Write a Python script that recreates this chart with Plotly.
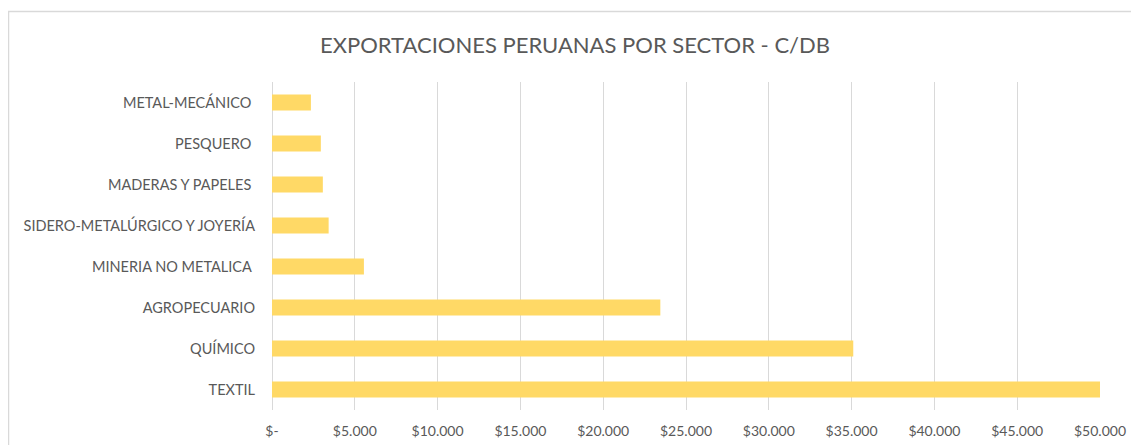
import plotly.graph_objects as go

categories = ["TEXTIL", "QUÍMICO", "AGROPECUARIO", "MINERIA NO METALICA ",
              "SIDERO-METALÚRGICO Y JOYERÍA", "MADERAS Y PAPELES ", "PESQUERO ", "METAL-MECÁNICO "]
values = [50000, 35100, 23450, 5550, 3420, 3070, 2950, 2350]
tick_vals = [0, 5000, 10000, 15000, 20000, 25000, 30000, 35000, 40000, 45000, 50000]
tick_text = ["$-", "$5.000", "$10.000", "$15.000", "$20.000", "$25.000",
             "$30.000", "$35.000", "$40.000", "$45.000", "$50.000"]

# page has an 8px body margin, so the figure is drawn from (8, 8)
OFF = 8
W, H = 1139 - OFF, 445 - OFF
L, T = 272 - OFF, 82 - OFF
R = W - (1100 - OFF)
B = H - (410 - OFF)
pw, ph = W - L - R, H - T - B

fig = go.Figure(go.Bar(
    y=categories, x=values, orientation="h",
    marker=dict(color="#FFD966", line=dict(width=0)),
    hoverinfo="x+y"
))

font_family = "Lato, Open Sans, sans-serif"
fig.update_layout(
    width=W, height=H,
    margin=dict(l=L, r=R, t=T, b=B, pad=0, autoexpand=False),
    paper_bgcolor="white", plot_bgcolor="white",
    bargap=0.61,
    showlegend=False,
    title=dict(text="EXPORTACIONES PERUANAS POR SECTOR - C/DB",
               x=(575 - OFF) / W, xanchor="center", xref="container",
               y=1 - (45 - OFF) / H, yanchor="middle", yref="container",
               font=dict(family=font_family, size=22, color="#595959")),
    font=dict(family=font_family, color="#595959"),
    xaxis=dict(range=[0, 50000], tickvals=tick_vals, ticktext=tick_text,
               showgrid=True, gridcolor="#D9D9D9", gridwidth=1,
               zeroline=True, zerolinecolor="#D9D9D9", zerolinewidth=1,
               showline=False, ticks="", ticklabelstandoff=11, automargin=False,
               tickfont=dict(size=14, color="#595959"), fixedrange=True),
    yaxis=dict(showgrid=False, zeroline=False, showline=False, ticks="",
               ticklabelstandoff=16, automargin=False,
               tickfont=dict(size=14.5, color="#595959"), fixedrange=True),
    shapes=[dict(type="rect", xref="paper", yref="paper",
                 x0=(8.5 - 272) / pw, x1=1.2, y0=-0.3, y1=1 + (82 - 11.5) / ph,
                 line=dict(color="#D9D9D9", width=1.5), fillcolor="rgba(0,0,0,0)",
                 layer="below")],
)

fig.write_html("out.html")
